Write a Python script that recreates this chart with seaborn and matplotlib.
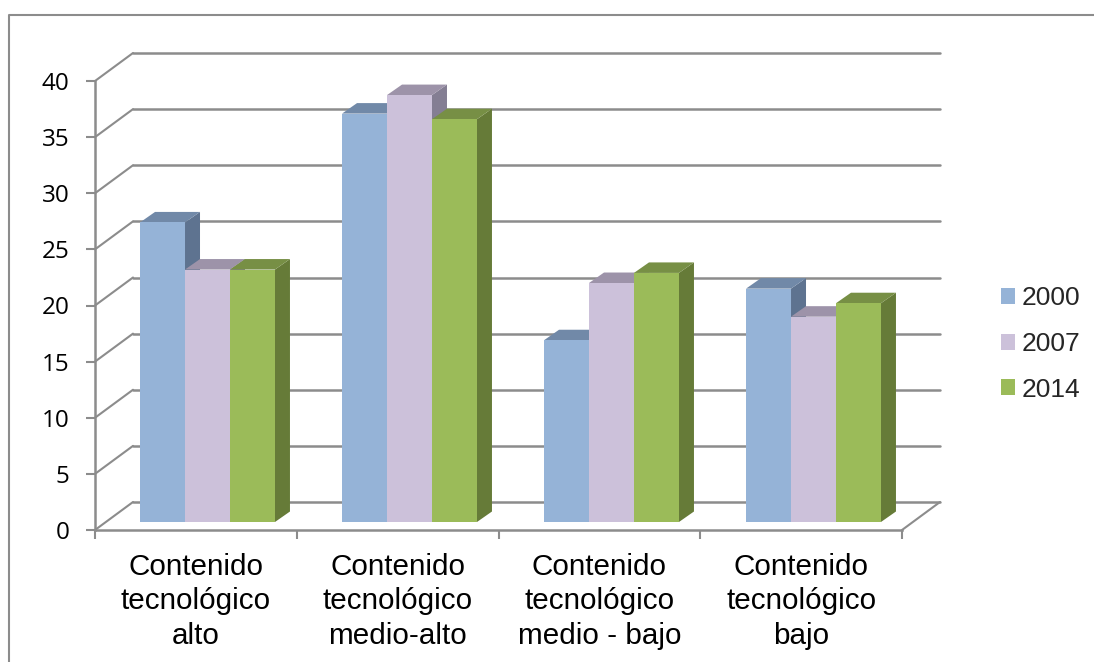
import numpy as np
import pandas as pd
import seaborn as sns
import matplotlib.pyplot as plt
from matplotlib.lines import Line2D
from matplotlib.patches import Polygon
from matplotlib.transforms import Affine2D, IdentityTransform

categorias = ["Contenido\ntecnológico\nalto", "Contenido\ntecnológico\nmedio-alto",
              "Contenido\ntecnológico\nmedio - bajo", "Contenido\ntecnológico\nbajo"]
anios = ["2000", "2007", "2014"]
valores_2000 = [26.7, 36.4, 16.2, 20.8]
valores_2007 = [22.5, 38.05, 21.3, 18.3]
valores_2014 = [22.5, 35.9, 22.2, 19.5]
yticks = [0, 5, 10, 15, 20, 25, 30, 35, 40]

frente = ["#95B3D7", "#CCC1DA", "#9BBB59"]
arriba = ["#7189A8", "#9D93A9", "#778F45"]
lado = ["#5E7390", "#847E93", "#667B38"]
GRIS = "#8C8C8C"

W, H = 1094, 662
# offsets in pixels for the fake 3D look
WALL_DX, WALL_DY = 38, 28
BAR_DX, BAR_DY = 15, 10.5


def box(left, bottom, width, height):
    return [left / W, 1 - bottom / H, width / W, height / H]


df = pd.DataFrame({
    "categoria": categorias * 3,
    "anio": np.repeat(anios, 4),
    "valor": valores_2000 + valores_2007 + valores_2014,
})

sns.set_style("white")
plt.rcParams["font.family"] = ["Liberation Sans", "DejaVu Sans"]

fig = plt.figure(figsize=(W / 100, H / 100), dpi=100)

# front plane: axis lines, ticks, labels, and the walls
ax = fig.add_axes(box(95, 530, 807, 449), zorder=1)
ax.set_xlim(-0.5, 3.5)
ax.set_ylim(0, 40)
ax.set_facecolor("none")
for s in ["top", "right"]:
    ax.spines[s].set_visible(False)
for s in ["left", "bottom"]:
    ax.spines[s].set_color(GRIS)
    ax.spines[s].set_linewidth(1.8)
ax.set_yticks(yticks)
ax.set_yticklabels(yticks, fontfamily="Open Sans", fontsize=17.5)
ax.set_xticks(range(4))
ax.set_xticklabels(categorias, fontsize=21.3, linespacing=1.29)
ax.set_xticks(np.arange(-0.5, 4), minor=True)
ax.tick_params(axis="y", left=True, length=6.5, width=1.5, color=GRIS, pad=12, labelcolor="black")
ax.tick_params(axis="x", which="major", bottom=False, length=0, pad=16.5, labelcolor="black")
ax.tick_params(axis="x", which="minor", bottom=True, length=6.5, width=1.5, color=GRIS)

atras = Affine2D().translate(WALL_DX, WALL_DY) + IdentityTransform()
wall = ax.transData + atras
for t in yticks:
    ax.plot([-0.5, 3.5], [t, t], color=GRIS, lw=1.8, transform=wall, clip_on=False)
    p0 = ax.transData.transform((-0.5, t))
    ax.add_line(Line2D([p0[0], p0[0] + WALL_DX], [p0[1], p0[1] + WALL_DY], color=GRIS, lw=1.5,
                       transform=IdentityTransform(), clip_on=False))
p1 = ax.transData.transform((3.5, 0))
ax.add_line(Line2D([p1[0], p1[0] + WALL_DX], [p1[1], p1[1] + WALL_DY], color=GRIS, lw=1.5,
                   transform=IdentityTransform(), clip_on=False))

# bars sit a bit inside the floor, on their own transparent axes
ax_b = fig.add_axes(box(106.5, 522, 808, 448.8), zorder=2)
ax_b.set_facecolor("none")
sns.barplot(data=df, x="categoria", y="valor", hue="anio", hue_order=anios, palette=frente,
            saturation=1, width=0.668, gap=0, linewidth=0, ax=ax_b, zorder=3)
ax_b.set_xlim(-0.5, 3.5)
ax_b.set_ylim(0, 40)
ax_b.axis("off")

for i, cont in enumerate(ax_b.containers):
    for bar in cont:
        x, w, h = bar.get_x(), bar.get_width(), bar.get_height()
        (x0, y0), (x1, y1) = ax_b.transData.transform([(x, 0), (x + w, h)])
        cara_lado = [(x1, y0), (x1, y1), (x1 + BAR_DX, y1 + BAR_DY), (x1 + BAR_DX, y0 + BAR_DY)]
        cara_top = [(x0, y1), (x1, y1), (x1 + BAR_DX, y1 + BAR_DY), (x0 + BAR_DX, y1 + BAR_DY)]
        ax_b.add_patch(Polygon(cara_lado, closed=True, fc=lado[i], ec="none",
                               transform=IdentityTransform(), clip_on=False, zorder=1))
        ax_b.add_patch(Polygon(cara_top, closed=True, fc=arriba[i], ec="none",
                               transform=IdentityTransform(), clip_on=False, zorder=1))

handles, labels = ax_b.get_legend_handles_labels()
ax_b.legend_.remove()
fig.legend(handles, labels, loc="center left", bbox_to_anchor=(1001 / W, 1 - 344 / H), frameon=False,
           fontsize=19, handlelength=0.54, handleheight=0.54, handletextpad=0.24,
           labelspacing=0.82, borderpad=0, borderaxespad=0)

# chart outer border, runs off the image at right and bottom
fig.add_artist(Line2D([8.5 / W, 8.5 / W, 1], [0, 1 - 14.5 / H, 1 - 14.5 / H], color=GRIS, lw=1.5))

plt.savefig("out.png", dpi=100)
plt.close()
